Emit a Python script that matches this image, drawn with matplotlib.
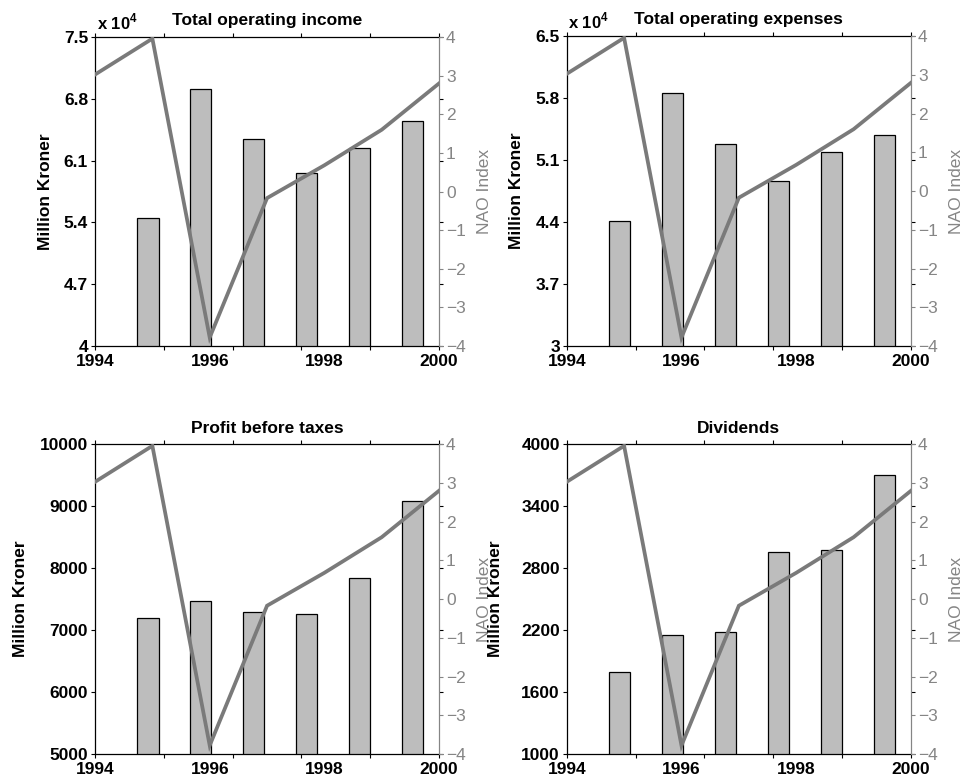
import numpy as np
import matplotlib
matplotlib.use("Agg")
import matplotlib.pyplot as plt
from matplotlib.ticker import FuncFormatter

plt.rcParams["font.family"] = ["Liberation Sans", "DejaVu Sans"]
plt.rcParams["mathtext.fontset"] = "custom"
plt.rcParams["mathtext.rm"] = "Liberation Sans:bold"
plt.rcParams["mathtext.bf"] = "Liberation Sans:bold"

# financial figures, million kroner (bars)
BAR_YEARS = [1995, 1996, 1997, 1998, 1999, 2000]
INCOME    = [54480, 69100, 63450, 59550, 62470, 65500]
EXPENSES  = [44100, 58600, 52800, 48700, 51900, 53800]
PROFIT    = [7190, 7465, 7290, 7255, 7840, 9080]
DIVIDENDS = [1790, 2150, 2180, 2955, 2975, 3700]

# winter NAO index (line)
NAO_YEARS = [1994, 1995, 1996, 1997, 1998, 1999, 2000]
NAO_INDEX = [3.03, 3.96, -3.78, -0.17, 0.68, 1.60, 2.80]

BAR_FILL = "#bdbdbd"
NAO_GRAY = "#7a7a7a"
AX_GRAY  = "#858585"
FS = 12.5

# title, values, ylim, scale, [left, bottom, width, height], ylabel x, title pad
PANELS = [
    ("Total operating income",   INCOME,    (40000, 75000), 1e4,
     [0.0987, 0.5587, 0.3572, 0.3940], -0.123, 9),
    ("Total operating expenses", EXPENSES,  (30000, 65000), 1e4,
     [0.5885, 0.5587, 0.3575, 0.3950], -0.125, 9),
    ("Profit before taxes",      PROFIT,    (5000, 10000),  1,
     [0.0987, 0.0383, 0.3572, 0.3950], -0.195, 8),
    ("Dividends",                DIVIDENDS, (1000, 4000),   1,
     [0.5885, 0.0383, 0.3575, 0.3950], -0.185, 8),
]


def panel(fig, title, values, ylim, scale, rect, ylab_x, tpad):
    ax = fig.add_axes(rect)
    ax.bar(BAR_YEARS, values, width=0.4, color=BAR_FILL,
           edgecolor="black", linewidth=0.9, zorder=2)
    ax.set_xlim(1994, 2000.5)
    ax.set_ylim(*ylim)
    ax.set_xticks(np.linspace(1994, 2000.5, 6))
    ax.set_yticks(np.linspace(ylim[0], ylim[1], 6))
    ax.yaxis.set_major_formatter(
        FuncFormatter(lambda v, p: "%g" % round(v / scale, 2)))
    ax.tick_params(direction="out", length=3, width=0.8, top=True,
                   right=True, labelbottom=False, labelsize=FS, pad=2)
    for lab in ax.get_yticklabels():
        lab.set_fontweight("bold")
    for s in ("left", "top", "bottom"):
        ax.spines[s].set_linewidth(0.9)
    ax.spines["right"].set_color(AX_GRAY)
    ax.set_ylabel("Million Kroner", fontsize=FS, fontweight="bold")
    ax.yaxis.set_label_coords(ylab_x, 0.5)
    ax.set_title(title, fontsize=FS, fontweight="bold", pad=tpad)
    if scale != 1:
        ax.text(0.005, 1.015, r"x 10$^{4}$", transform=ax.transAxes,
                fontsize=12, fontweight="bold", ha="left", va="bottom")

    # NAO on its own overlay axes (different x scaling, MATLAB plotyy style)
    ax2 = ax.inset_axes([0, 0, 1, 1])
    ax2.patch.set_visible(False)
    ax2.plot(NAO_YEARS, NAO_INDEX, color=NAO_GRAY, lw=2.7,
             solid_joinstyle="miter")
    ax2.set_xlim(1994, 2000)
    ax2.set_ylim(-4, 4)
    ax2.set_xticks([1994, 1996, 1998, 2000])
    ax2.tick_params(axis="x", length=0, pad=6, labelsize=FS)
    for lab in ax2.get_xticklabels():
        lab.set_fontweight("bold")
    ax2.yaxis.tick_right()
    ax2.yaxis.set_label_position("right")
    ax2.set_yticks(range(-4, 5))
    ax2.set_yticklabels([str(v).replace("-", "\u2212") for v in range(-4, 5)])
    ax2.tick_params(axis="y", colors=AX_GRAY, direction="out", length=3,
                    labelsize=FS, pad=2)
    for s in ("left", "top", "bottom"):
        ax2.spines[s].set_visible(False)
    ax2.spines["right"].set_color(AX_GRAY)
    ax2.set_ylabel("NAO Index", color=AX_GRAY, fontsize=FS)
    ax2.yaxis.set_label_coords(1.11, 0.5)


fig = plt.figure(figsize=(9.63, 7.84), dpi=100)
for p in PANELS:
    panel(fig, *p)
fig.savefig("out.png", dpi=100, facecolor="white")
